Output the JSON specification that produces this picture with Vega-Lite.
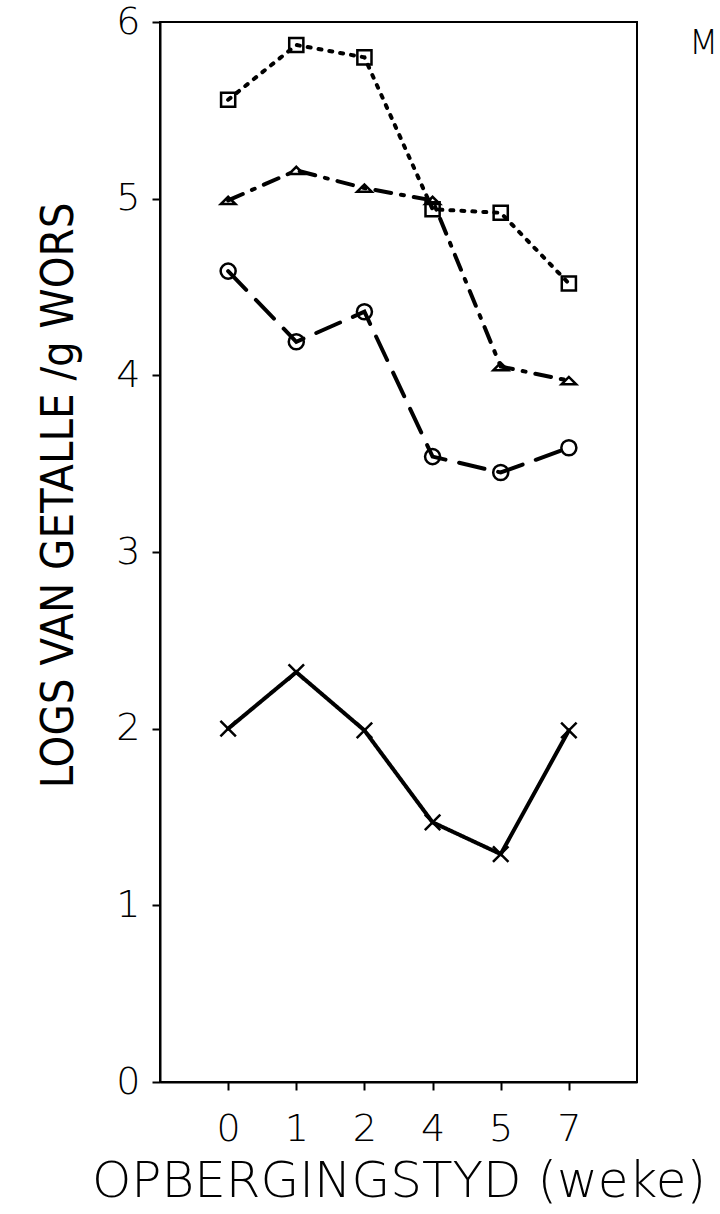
{
  "$schema": "https://vega.github.io/schema/vega-lite/v6.json",
  "autosize": {"type": "none"},
  "padding": {"left": 160, "top": 22, "right": 83, "bottom": 132},
  "width": 477,
  "height": 1060,
  "background": "white",
  "title": {
    "text": "M",
    "anchor": "end",
    "align": "left",
    "frame": "group",
    "dx": 52,
    "dy": 58,
    "offset": 0,
    "font": "DejaVu Sans",
    "fontSize": 34,
    "fontWeight": 200,
    "color": "black"
  },
  "config": {
    "view": {"stroke": "black", "strokeWidth": 2},
    "axis": {
      "domainColor": "black",
      "domainWidth": 2,
      "tickColor": "black",
      "tickWidth": 2,
      "tickSize": 8,
      "grid": false,
      "labelColor": "black",
      "titleColor": "black",
      "labelFont": "DejaVu Sans",
      "titleFont": "DejaVu Sans",
      "labelFontWeight": 200,
      "titleFontWeight": 200
    }
  },
  "data": {
    "values": [
      {"series": "square", "week": 0, "log": 5.56},
      {"series": "square", "week": 1, "log": 5.87},
      {"series": "square", "week": 2, "log": 5.80},
      {"series": "square", "week": 4, "log": 4.94},
      {"series": "square", "week": 5, "log": 4.92},
      {"series": "square", "week": 7, "log": 4.52},
      {"series": "triangle", "week": 0, "log": 4.99},
      {"series": "triangle", "week": 1, "log": 5.16},
      {"series": "triangle", "week": 2, "log": 5.06},
      {"series": "triangle", "week": 4, "log": 4.99},
      {"series": "triangle", "week": 5, "log": 4.05},
      {"series": "triangle", "week": 7, "log": 3.97},
      {"series": "circle", "week": 0, "log": 4.59},
      {"series": "circle", "week": 1, "log": 4.19},
      {"series": "circle", "week": 2, "log": 4.36},
      {"series": "circle", "week": 4, "log": 3.54},
      {"series": "circle", "week": 5, "log": 3.45},
      {"series": "circle", "week": 7, "log": 3.59},
      {"series": "cross", "week": 0, "log": 2.00},
      {"series": "cross", "week": 1, "log": 2.32},
      {"series": "cross", "week": 2, "log": 1.99},
      {"series": "cross", "week": 4, "log": 1.47},
      {"series": "cross", "week": 5, "log": 1.29},
      {"series": "cross", "week": 7, "log": 1.99}
    ]
  },
  "encoding": {
    "x": {
      "field": "week",
      "type": "ordinal",
      "scale": {"type": "point", "padding": 1},
      "axis": {
        "title": "OPBERGINGSTYD (weke)",
        "labelAngle": 0,
        "labelFontSize": 38,
        "labelPadding": 20,
        "titleFontSize": 50,
        "titlePadding": 8
      }
    },
    "y": {
      "field": "log",
      "type": "quantitative",
      "scale": {"domain": [0, 6], "nice": false},
      "axis": {
        "title": "LOGS VAN GETALLE /g WORS",
        "values": [0, 1, 2, 3, 4, 5, 6],
        "labelFontSize": 38,
        "labelPadding": 12,
        "titleFont": "DejaVu Sans Condensed, Roboto Condensed, Roboto",
        "titleFontSize": 45,
        "titlePadding": 34,
        "titleY": 473
      }
    }
  },
  "layer": [
    {
      "mark": {"type": "line", "color": "black", "strokeWidth": 4, "strokeCap": "round"},
      "encoding": {
        "detail": {"field": "series"},
        "strokeDash": {
          "field": "series",
          "type": "nominal",
          "scale": {
            "domain": ["square", "triangle", "circle", "cross"],
            "range": [[3, 8], [16, 10, 3, 10], [26, 14], [1, 0]]
          },
          "legend": null
        },
        "strokeWidth": {
          "field": "series",
          "type": "nominal",
          "scale": {
            "domain": ["square", "triangle", "circle", "cross"],
            "range": [4.5, 4, 4, 5]
          },
          "legend": null
        }
      }
    },
    {
      "mark": {"type": "point", "filled": false, "color": "black", "strokeWidth": 2.5, "opacity": 1},
      "encoding": {
        "shape": {
          "field": "series",
          "type": "nominal",
          "scale": {
            "domain": ["square", "triangle", "circle", "cross"],
            "range": ["square", "M-1,0.5L1,0.5L0,-0.5Z", "circle", "M-1,-1L1,1M-1,1L1,-1"]
          },
          "legend": null
        },
        "size": {
          "field": "series",
          "type": "nominal",
          "scale": {
            "domain": ["square", "triangle", "circle", "cross"],
            "range": [200, 240, 170, 150]
          },
          "legend": null
        }
      }
    }
  ]
}
